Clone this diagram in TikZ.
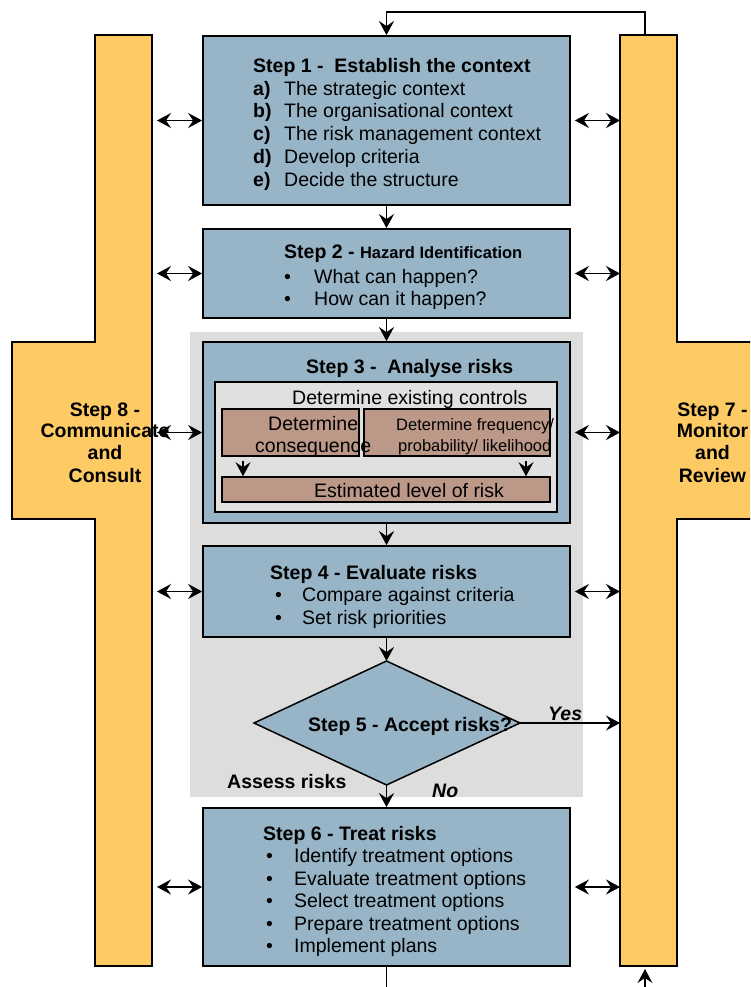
\documentclass[tikz,border=0pt]{standalone}
\usepackage{fontspec}
\setmainfont{Liberation Sans}
\usetikzlibrary{arrows.meta}
\definecolor{boxblue}{RGB}{151,181,199}
\definecolor{pillarc}{RGB}{253,202,100}
\definecolor{bggray}{RGB}{221,221,221}
\definecolor{innergray}{RGB}{224,224,224}
\definecolor{brownbox}{RGB}{188,152,137}
\newcommand\mainsz{\fontsize{19.5}{22}\selectfont}
\newcommand\smallsz{\fontsize{16.5}{19}\selectfont}
\tikzset{myhead/.tip={Stealth[length=14pt,width=15pt,inset=5pt]}}
\begin{document}
\begin{tikzpicture}[x=1pt,y=-1pt,
 stepbox/.style={draw=black,line width=1.8pt,fill=boxblue,inner sep=0pt,minimum width=367pt},
 brownrect/.style={draw=black,line width=1.5pt,fill=brownbox,inner sep=0pt},
 conn/.style={line width=1.6pt,-myhead},
 biconn/.style={line width=1.6pt,myhead-myhead},
 tx/.style={anchor=base west,inner sep=0pt,font=\mainsz},
 btx/.style={anchor=base west,inner sep=0pt,font=\mainsz\bfseries},
 stx/.style={anchor=base west,inner sep=0pt,font=\smallsz},
 ptx/.style={anchor=base,inner sep=0pt,font=\mainsz\bfseries}]
\useasboundingbox (0,0) rectangle (750,987);
\clip (0,0) rectangle (750,987);
\fill[white] (0,0) rectangle (750,987);

% assess risks background
\node[fill=bggray,inner sep=0pt,minimum width=393pt,minimum height=465pt] (assess) at (386.5,564.5) {};

% pillars
\draw[fill=pillarc,line width=1.8pt] (95,35) -- (152,35) -- (152,966) -- (95,966) -- (95,519) -- (12,519) -- (12,342) -- (95,342) -- cycle;
\draw[fill=pillarc,line width=1.8pt] (620,35) -- (677,35) -- (677,342) -- (780,342) -- (780,519) -- (677,519) -- (677,966) -- (620,966) -- cycle;
\coordinate (Lx) at (157,0);
\coordinate (Rx) at (620,0);
\coordinate (Rtop) at (645,35);
\coordinate (Rbot) at (645,966);
\coordinate (Bend) at (385,995);

% step boxes
\node[stepbox,minimum height=169pt] (s1) at (386.5,120.5) {};
\node[stepbox,minimum height=89pt] (s2) at (386.5,273.5) {};
\node[stepbox,minimum height=181pt] (s3) at (386.5,432.5) {};
\node[stepbox,minimum height=91pt] (s4) at (386.5,591.5) {};
\node[stepbox,minimum height=158pt] (s6) at (386.5,887) {};

% diamond
\coordinate (d5n) at (386.5,661);
\coordinate (d5e) at (520,723);
\coordinate (d5s) at (386.5,785);
\coordinate (d5w) at (254,723);
\draw[fill=boxblue,line width=1.5pt] (d5n) -- (d5e) -- (d5s) -- (d5w) -- cycle;

% step 3 inner
\node[draw=black,line width=1.5pt,fill=innergray,inner sep=0pt,minimum width=342pt,minimum height=130pt] (inner) at (386,447) {};
\node[brownrect,minimum width=137pt,minimum height=47pt] (cons) at (290.5,432.5) {};
\node[brownrect,minimum width=186pt,minimum height=47pt] (freq) at (457,432.5) {};
\node[brownrect,minimum width=328pt,minimum height=25pt] (est) at (386,489.5) {};
\coordinate (ia) at (243,0);
\coordinate (ib) at (526,0);
\draw[conn,shorten <=4pt] (ia |- cons.south) -- (ia |- est.north);
\draw[conn,shorten <=4pt] (ib |- freq.south) -- (ib |- est.north);

% vertical connectors
\draw[conn] (s1.south) -- (s2.north);
\draw[conn] (s2.south) -- (s3.north);
\draw[conn] (s3.south) -- (s4.north);
\draw[conn] (s4.south) -- (d5n);
\draw[conn] (d5s) -- (s6.north);
\draw[line width=1.6pt] (s6.south) -- (s6.south |- Bend);
\draw[conn] (Rtop) |- ([yshift=23pt]s1.north) -- (s1.north);
\draw[conn] ([yshift=-24pt]Rbot) -- ([yshift=-3pt]Rbot);
\draw[conn] (d5e) -- (d5e -| Rx);

% horizontal double arrows
\foreach \s in {s1,s2,s3,s4,s6}{
  \draw[biconn] (\s.west -| Lx) -- (\s.west);
  \draw[biconn] ([xshift=4pt]\s.east) -- (\s.east -| Rx);
}

% step 1 text
\node[btx] (t1) at (253,73) {Step 1 - \ Establish the context};
\node[btx] (t1a) at (253,95.5) {a)};
\node[tx] (t1at) at (284,95.5) {The strategic context};
\node[btx] (t1b) at (253,118) {b)};
\node[tx] (t1bt) at (284,118) {The organisational context};
\node[btx] (t1c) at (253,141) {c)};
\node[tx] (t1ct) at (284,141) {The risk management context};
\node[btx] (t1d) at (253,163.5) {d)};
\node[tx] (t1dt) at (284,163.5) {Develop criteria};
\node[btx] (t1e) at (253,186) {e)};
\node[tx] (t1et) at (284,186) {Decide the structure};

% step 2 text
\node[btx] (t2) at (284,258) {Step 2 - {\smallsz\bfseries Hazard Identification}};
\node[tx] (t2ab) at (284,283) {•};
\node[tx] (t2a) at (314,283) {What can happen?};
\node[tx] (t2bb) at (284,305.5) {•};
\node[tx] (t2b) at (314,305.5) {How can it happen?};

% step 3 text
\node[btx] (t3) at (306,373) {Step 3 - \ Analyse risks};
\node[tx] (t3a) at (292,404) {Determine existing controls};
\node[tx] (t3b) at (268,430) {Determine};
\node[tx] (t3c) at (255,452) {consequence};
\node[stx] (t3d) at (396,430) {Determine frequency/};
\node[stx] (t3e) at (398,451) {probability/ likelihood};
\node[tx] (t3f) at (314,497) {Estimated level of risk};

% step 4 text
\node[btx] (t4) at (270,579) {Step 4 - Evaluate risks};
\node[tx] (t4ab) at (275,601) {•};
\node[tx] (t4a) at (302,601) {Compare against criteria};
\node[tx] (t4bb) at (275,624) {•};
\node[tx] (t4b) at (302,624) {Set risk priorities};

% step 5 text
\node[btx] (t5) at (308,731) {Step 5 - Accept risks?};
\node[btx,font=\mainsz\bfseries\itshape] (yes) at (548,720) {Yes};
\node[btx,font=\mainsz\bfseries\itshape] (no) at (432,797) {No};
\node[btx] (assesst) at (227,788) {Assess risks};

% step 6 text
\node[btx] (t6) at (263,840) {Step 6 - Treat risks};
\foreach \yy/\tt [count=\i] in {862.5/Identify treatment options,885/Evaluate treatment options,907.5/Select treatment options,930.5/Prepare treatment options,952.5/Implement plans}{
  \node[tx] (t6b\i) at (266,\yy) {•};
  \node[tx] (t6t\i) at (294,\yy) {\tt};
}

% pillar labels
\node[ptx] (p8a) at (105,416) {Step 8 -};
\node[ptx] (p8b) at (105,437.5) {Communicate};
\node[ptx] (p8c) at (105,459.5) {and};
\node[ptx] (p8d) at (105,482) {Consult};
\node[ptx] (p7a) at (712.5,416) {Step 7 -};
\node[ptx] (p7b) at (712.5,437.5) {Monitor};
\node[ptx] (p7c) at (712.5,459.5) {and};
\node[ptx] (p7d) at (712.5,482) {Review};
\end{tikzpicture}
\end{document}
